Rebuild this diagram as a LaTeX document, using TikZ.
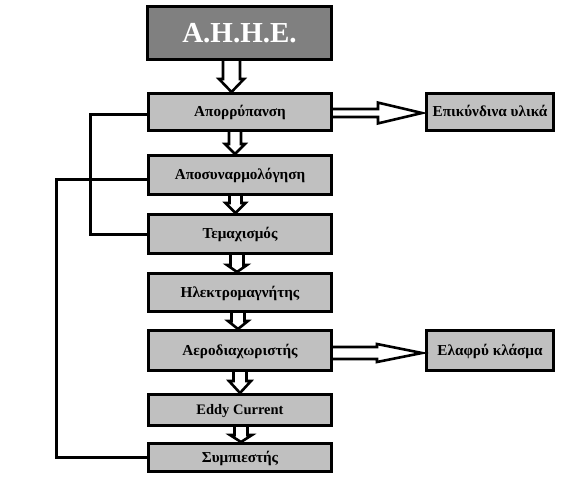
\documentclass[tikz,border=0pt]{standalone}
\usepackage{fontspec}
\setmainfont{Liberation Serif}
\usetikzlibrary{calc}
\definecolor{boxgray}{HTML}{C0C0C0}
\definecolor{titlegray}{HTML}{808080}
% hollow block arrow pointing down: from, to, dx, shaft half, head half, head length
\newcommand\blockdown[6]{%
  \draw[blockarrow] let \p1=($(#1.south)+(#3,0)$), \p2=(#2.north) in
    (\x1-#4,\y1+1.5pt) -- (\x1-#4,\y2+#6) -- (\x1-#5,\y2+#6) -- (\x1,\y2)
    -- (\x1+#5,\y2+#6) -- (\x1+#4,\y2+#6) -- (\x1+#4,\y1+1.5pt) -- cycle;}
% hollow block arrow pointing right: from, to, dy, shaft half, head half, shaft length
\newcommand\blockright[6]{%
  \draw[blockarrow] let \p1=($(#1.east)+(0,#3)$), \p2=(#2.west) in
    (\x1-1.5pt,\y1+#4) -- (\x1+#6,\y1+#4) -- (\x1+#6,\y1+#5) -- (\x2-3pt,\y1)
    -- (\x1+#6,\y1-#5) -- (\x1+#6,\y1-#4) -- (\x1-1.5pt,\y1-#4) -- cycle;}
\begin{document}
\begin{tikzpicture}[x=1pt,y=-1pt,
  box/.style={draw=black, line width=3pt, fill=boxgray, inner sep=0pt,
    text height=10pt, text depth=3pt, minimum width=183pt,
    font=\fontsize{15.2}{18}\selectfont\bfseries},
  sidebox/.style={box, minimum width=127pt},
  titlebox/.style={draw=black, line width=3pt, fill=titlegray, inner sep=0pt,
    text height=20pt, text depth=6pt, minimum width=184pt, minimum height=53pt,
    text=white, font=\fontsize{29}{34}\selectfont\bfseries},
  blockarrow/.style={draw=black, fill=white, line width=2.6pt, line join=miter},
  conn/.style={draw=black, line width=3pt}]
\useasboundingbox (0,0) rectangle (567,480);
\node[titlebox] (t) at (239.5,33) {\raisebox{-2pt}{Α.Η.Η.Ε.}};
\node[box, minimum height=37pt] (b1) at (240,112) {\raisebox{-1pt}{Απορρύπανση}};
\node[box, minimum height=39pt] (b2) at (240,175) {\raisebox{-1pt}{Αποσυναρμολόγηση}};
\node[box, minimum height=39pt] (b3) at (240,234) {\raisebox{-1pt}{Τεμαχισμός}};
\node[box, minimum height=38pt] (b4) at (240,292.5) {\raisebox{-1pt}{Ηλεκτρομαγνήτης}};
\node[box, minimum height=40pt] (b5) at (240,350.5) {\raisebox{-1pt}{Αεροδιαχωριστής}};
\node[box, minimum height=31pt, font=\fontsize{14.5}{17}\selectfont\bfseries] (b6) at (240,410) {\raisebox{-1pt}{Eddy Current}};
\node[box, minimum height=28pt] (b7) at (240,457.5) {\raisebox{-1pt}{Συμπιεστής}};
\node[sidebox, minimum height=37pt] (r1) at (490,112) {\raisebox{-1pt}{Επικύνδινα υλικά}};
\node[sidebox, minimum height=40pt] (r2) at (490,350.5) {\raisebox{-1.5pt}{Ελαφρύ κλάσμα}};
% down arrows
\blockdown{t}{b1}{-8}{8.5pt}{12.5pt}{13pt}
\blockdown{b1}{b2}{-5}{6pt}{10pt}{10pt}
\blockdown{b2}{b3}{-4.5}{6pt}{10pt}{10pt}
\blockdown{b3}{b4}{-3}{6.5pt}{10pt}{7pt}
\blockdown{b4}{b5}{-2}{6.5pt}{10pt}{8pt}
\blockdown{b5}{b6}{0}{6.5pt}{11pt}{12pt}
\blockdown{b6}{b7}{1}{6.5pt}{11pt}{7pt}
% right arrows
\blockright{b1}{r1}{1}{4pt}{10.4pt}{45pt}
\blockright{b5}{r2}{2.5}{6pt}{9pt}{44pt}
% left return lines
\coordinate (k1) at (90,0);
\coordinate (k2) at (56,0);
\draw[conn] ($(b1.west)+(0,2)$) -| (k1 |- b3.west) -- (b3.west);
\draw[conn] ($(b2.west)+(0,4)$) -| (k2 |- b7.west) -- (b7.west);
\end{tikzpicture}
\end{document}
